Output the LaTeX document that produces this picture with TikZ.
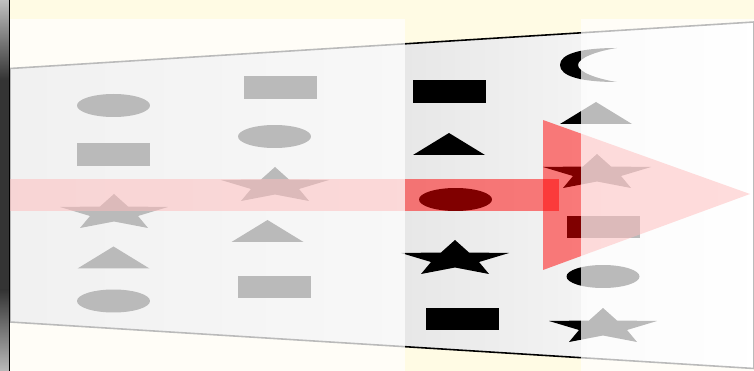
\documentclass[tikz,border=0pt]{standalone}
\usepackage{xcolor}
\usepackage{tikz}
\usetikzlibrary{shapes.geometric}
\definecolor{cream}{RGB}{255,251,228}
\definecolor{barGray}{RGB}{52,52,52}

\begin{document}
\begin{tikzpicture}[
  x=0.02cm, y=-0.02cm,
  oval/.style={ellipse, fill=black, inner sep=0pt,
    minimum width=1.46cm, minimum height=0.46cm},
  block/.style={rectangle, fill=black, inner sep=0pt,
    minimum width=1.46cm, minimum height=0.46cm},
  tri/.pic={\fill[black] (-36,11) -- (0,-11) -- (36,11) -- cycle;},
  starmark/.pic={\fill[black] (0,-19) -- (14,-6.5) -- (54,-6) -- (24,3)
    -- (34,15) -- (0,8.5) -- (-34,15) -- (-24,3) -- (-54,-6) -- (-14,-6.5) -- cycle;},
  beam/.style={red, opacity=0.5},
  veil/.style={white, opacity=0.73}
]
  \useasboundingbox (0,0) rectangle (754,371);
  \clip (0,0) rectangle (754,371);

  % Background
  \fill[cream] (0,0) rectangle (754,371);
  \fill[barGray] (0,0) rectangle (9,371);
  \shade[top color=gray!50, bottom color=barGray] (0,0) rectangle (9,80);
  \shade[top color=barGray, bottom color=gray!55] (0,290) rectangle (9,371);
  \draw[black, line width=1pt] (9.5,0) -- (9.5,371);

  % Window
  \shadedraw[left color=black!20, right color=white, draw=black, line width=0.9pt]
    (10,68.5) -- (754,22) -- (754,368.5) -- (10,322) -- cycle;

  % Column 1
  \node[oval] (o11) at (113.5,105.5) {};
  \node[block] (b12) at (113.5,154.5) {};
  \pic at (114,213) {starmark};
  \pic at (113.5,257.5) {tri};
  \node[oval] (o15) at (113.5,301) {};

  % Column 2
  \node[block] (b21) at (280.5,87.5) {};
  \node[oval] (o22) at (274.5,136.5) {};
  \pic at (275,186) {starmark};
  \pic at (267.5,231) {tri};
  \node[block] (b25) at (274.5,287) {};

  % Column 3
  \node[block] (b31) at (449.5,92) {};
  \pic at (449,144) {tri};
  \node[oval] (o33) at (455.5,199.5) {};
  \pic at (455,259) {starmark};
  \node[block] (b35) at (462.5,319) {};

  % Column 4
  \fill[black] (617,48) .. controls (580,48) and (560,54) .. (560,65)
    .. controls (560,76) and (580,82) .. (617,82)
    .. controls (597,79) and (578,72) .. (578,65)
    .. controls (578,58) and (597,51) .. (617,48) -- cycle;
  \pic at (596,113) {tri};
  \pic at (597,173) {starmark};
  \node[block] (b44) at (603,227) {};
  \node[oval] (o45) at (603,276.5) {};
  \pic at (603,327) {starmark};

  % Arrow
  \fill[beam] (10,179) rectangle (559,211);
  \fill[beam] (543,120) -- (750,194) -- (543,270) -- cycle;

  % Faded parts
  \fill[veil] (10,19) rectangle (405,371);
  \fill[veil] (581,19) rectangle (754,371);
\end{tikzpicture}
\end{document}
